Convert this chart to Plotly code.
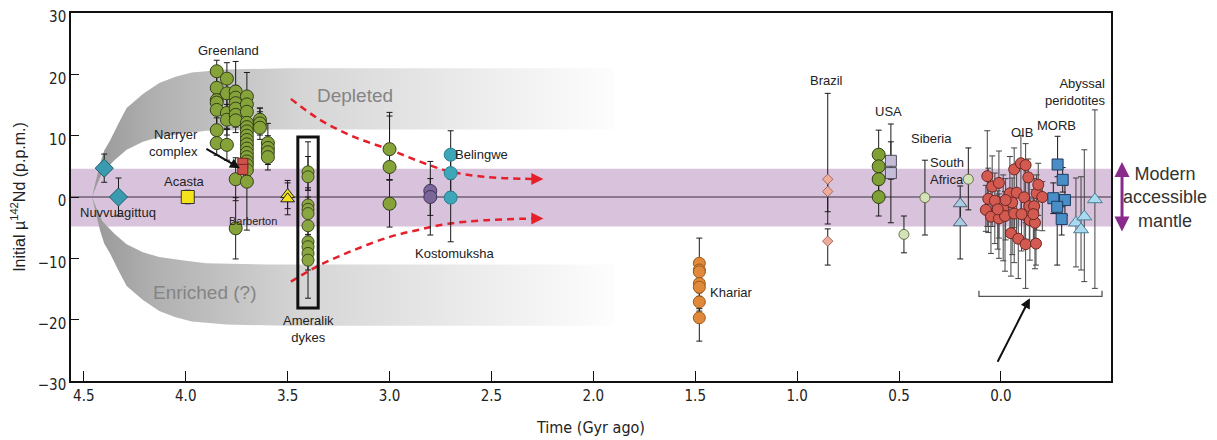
import plotly.graph_objects as go

# ---------------- data ----------------
nuv_x = [4.40, 4.33]
nuv_y = [4.7, 0.0]
nuv_err = [2.3, 3.1]

acasta_x = [3.99]
acasta_y = [0.0]
acasta_err = [1.1]

narryer_x = [3.72, 3.72]
narryer_y = [5.5, 4.5]
narryer_err = [0.6, 0.6]

barb_x = [3.50, 3.50]
barb_y = [0.4, -0.3]
barb_err = [2.3, 2.6]

green_x = [3.848, 3.848, 3.848, 3.848, 3.848, 3.848, 3.848,
           3.798, 3.798, 3.798, 3.798, 3.798,
           3.755, 3.755, 3.755, 3.755, 3.755, 3.755, 3.755, 3.755,
           3.70, 3.70, 3.70, 3.70, 3.70, 3.70, 3.70, 3.70, 3.70, 3.70, 3.70, 3.70, 3.70, 3.70, 3.70, 3.70,
           3.636, 3.636, 3.636,
           3.597, 3.597, 3.597, 3.597]
green_y = [20.5, 17.8, 15.8, 15.4, 14.2, 10.9, 8.8,
           19.3, 16.9, 13.7, 12.6, 8.5,
           17.2, 16.2, 15.3, 14.4, 13.4, 12.5, 2.9, -5.1,
           16.4, 15.1, 13.9, 12.1, 11.4, 10.7, 10.0, 9.3, 8.6, 7.9, 7.2, 6.5, 5.8, 5.2, 4.4, 2.5,
           12.6, 12.0, 11.3,
           8.8, 8.0, 7.3, 6.5]
green_ep = [1.8, 2.0, 2.2, 2.0, 2.5, 2.0, 2.0,
            2.6, 2.5, 2.5, 2.5, 2.5,
            4.9, 2.0, 2.0, 2.0, 2.0, 2.0, 3.5, 5.0,
            3.9, 2.0, 2.0, 2.0, 2.0, 2.0, 2.0, 2.0, 2.0, 2.0, 2.0, 2.0, 2.0, 2.0, 2.0, 2.0,
            1.9, 1.9, 3.2,
            3.2, 2.0, 2.0, 2.0]
green_em = [1.8, 2.0, 2.2, 2.0, 2.5, 2.0, 2.0,
            2.6, 2.5, 2.5, 2.5, 2.5,
            2.0, 2.0, 2.0, 2.0, 2.0, 2.0, 3.5, 5.0,
            2.0, 2.0, 2.0, 2.0, 2.0, 2.0, 2.0, 2.0, 2.0, 2.0, 2.0, 2.0, 2.0, 2.0, 2.0, 7.9,
            1.9, 1.9, 1.9,
            2.0, 2.0, 2.0, 2.1]

amer_x = [3.40] * 10
amer_y = [4.1, 3.3, -1.3, -2.0, -2.7, -4.7, -7.3, -8.1, -9.2, -10.3]
amer_ep = [4.9, 3.3, 2.8, 2.0, 2.0, 2.0, 2.0, 2.0, 2.0, 2.0]
amer_em = [3.0, 2.2, 2.0, 2.0, 2.0, 1.7, 2.0, 2.0, 2.7, 6.2]

isua3_x = [3.0, 3.0, 3.0]
isua3_y = [7.8, 4.9, -1.1]
isua3_ep = [6.0, 8.3, 3.9]
isua3_em = [5.0, 2.1, 3.8]

kosto_x = [2.80, 2.80]
kosto_y = [1.0, 0.0]
kosto_ep = [4.8, 3.0]
kosto_em = [4.0, 6.2]

beling_x = [2.70, 2.70, 2.70]
beling_y = [6.9, 3.9, -0.1]
beling_ep = [3.9, 3.0, 3.0]
beling_em = [3.0, 3.0, 7.2]

khariar_x = [1.48] * 7
khariar_y = [-10.8, -11.9, -12.2, -14.1, -14.7, -17.1, -19.7]
khariar_ep = [4.1, 1.5, 1.5, 1.5, 1.5, 1.5, 1.5]
khariar_em = [1.5, 1.5, 1.5, 1.5, 1.5, 1.5, 3.8]

brazil_x = [0.85, 0.85, 0.85]
brazil_y = [2.9, 0.9, -7.2]
brazil_ep = [14.0, 2.0, 2.0]
brazil_em = [5.3, 5.3, 3.9]

usa_c_x = [0.60, 0.60, 0.60, 0.60]
usa_c_y = [6.9, 5.0, 2.9, 0.0]
usa_c_ep = [4.0, 2.0, 2.0, 2.0]
usa_c_em = [2.0, 2.0, 2.0, 3.1]

usa_s_x = [0.54, 0.54]
usa_s_y = [5.9, 3.9]
usa_s_ep = [6.0, 5.1]
usa_s_em = [3.0, 8.1]

pale_x = [0.476, 0.373, 0.16]
pale_y = [-6.1, -0.1, 2.9]
pale_ep = [3.0, 6.1, 5.1]
pale_em = [3.0, 6.1, 5.0]

safr_x = [0.20, 0.20]
safr_y = [-1.1, -4.2]
safr_ep = [2.9, 3.0]
safr_em = [3.0, 5.9]

oib_x = [0.067, 0.043, 0.010, 0.062, 0.030, 0.074, 0.049, 0.010, -0.011, -0.020,
         -0.044, -0.065, -0.077, -0.098, -0.121, -0.114, -0.134, -0.139, -0.163, -0.175,
         -0.183, -0.203, -0.142, -0.167, -0.049, -0.085, -0.121, -0.172, -0.065, -0.101,
         -0.055, -0.023, 0.016, -0.159]
oib_y = [3.4, 1.7, 2.3, -0.3, -0.6, -2.1, -3.2, -3.5, -1.9, -3.1,
         0.6, 4.5, 0.7, 5.5, 5.2, -0.05, 3.2, -1.5, -1.5, 0.6,
         2.0, 0.0, -3.8, -4.2, -5.9, -6.8, -7.7, -7.6, -2.7, -2.8,
         -0.9, -0.5, -2.0, -2.8]
oib_ep = [7.4, 5.0, 5.2, 5.0, 4.5, 4.0, 4.5, 4.0, 5.5, 4.0,
          6.0, 3.5, 4.0, 4.5, 3.5, 5.5, 3.0, 4.0, 4.5, 3.0,
          3.5, 2.5, 3.5, 3.0, 3.0, 3.5, 3.5, 3.0, 3.0, 3.5,
          4.0, 3.5, 3.0, 4.0]
oib_em = [8.2, 6.5, 9.0, 5.5, 7.0, 3.5, 6.0, 6.5, 8.5, 9.0,
          6.0, 9.5, 7.5, 8.5, 9.0, 7.0, 6.0, 6.5, 5.5, 6.0,
          5.0, 5.5, 6.5, 7.5, 7.0, 6.5, 7.2, 3.5, 8.0, 6.0,
          8.5, 6.5, 6.5, 5.0]

morb_x = [-0.278, -0.303, -0.257, -0.314, -0.276, -0.298]
morb_y = [5.3, 2.8, -0.2, -0.5, -1.6, -3.6]
morb_ep = [4.6, 2.0, 2.5, 2.5, 2.0, 2.0]
morb_em = [2.0, 2.0, 2.5, 2.5, 9.5, 2.6]

abys_x = [-0.368, -0.409, -0.393, -0.461]
abys_y = [-4.2, -3.2, -5.3, -0.4]
abys_ep = [7.3, 10.9, 8.6, 14.6]
abys_em = [7.2, 10.6, 6.6, 14.5]

# schematic evolution bands (edges)
band_up_x = [4.46, 4.44, 4.42, 4.40, 4.37, 4.33, 4.29, 4.21, 4.13, 4.05, 3.97, 3.80, 3.50, 1.90]
band_up_y = [0.0, 3.0, 5.5, 7.6, 9.3, 12.0, 14.5, 16.8, 18.6, 19.6, 20.3, 20.8, 21.0, 21.0]
band_lo_x = [4.46, 4.43, 4.41, 4.35, 4.29, 4.21, 4.13, 4.00, 3.90, 3.60, 1.90]
band_lo_y = [0.0, 2.5, 3.9, 6.0, 7.7, 9.0, 9.8, 10.4, 10.8, 11.0, 11.0]

dash_up_x = [3.484, 3.342, 3.178, 2.998, 2.851, 2.720, 2.540, 2.278]
dash_up_y = [16.0, 12.6, 9.85, 7.7, 5.77, 4.3, 3.3, 2.94]
dash_lo_x = [3.484, 3.342, 3.178, 2.998, 2.851, 2.720, 2.540, 2.278]
dash_lo_y = [-13.8, -11.1, -8.7, -6.5, -5.3, -4.4, -3.8, -3.5]

mantle_lo, mantle_hi = -4.8, 4.6
x_range = [4.563, -0.54]

# ---------------- figure ----------------
fig = go.Figure()

grad = dict(type="horizontal", start=4.46, stop=1.90,
            colorscale=[[0, "#989898"], [0.12, "#b0b0b0"], [0.4, "#d5d5d5"], [0.75, "#ededed"], [1, "#fdfdfd"]])

px_ = band_up_x + band_lo_x[::-1]
py_ = band_up_y + band_lo_y[::-1]
fig.add_trace(go.Scatter(x=px_, y=py_, mode="lines", fill="toself", line=dict(width=0),
                         fillgradient=grad, hoverinfo="skip", showlegend=False))
fig.add_trace(go.Scatter(x=px_, y=[-v for v in py_], mode="lines", fill="toself", line=dict(width=0),
                         fillgradient=grad, hoverinfo="skip", showlegend=False))

# zero line
fig.add_trace(go.Scatter(x=[x_range[0], x_range[1]], y=[0, 0], mode="lines",
                         line=dict(color="#6f6175", width=1.3), hoverinfo="skip", showlegend=False))

# dashed red curves
for xs, ys in [(dash_up_x, dash_up_y), (dash_lo_x, dash_lo_y)]:
    fig.add_trace(go.Scatter(x=xs, y=ys, mode="lines", line=dict(color="#e5202a", width=2.5, dash="7px,5px", shape="spline"),
                             hoverinfo="skip", showlegend=False))


def pts(x, y, ep, em, symbol, size, color, edge, ecol="#1a1a1a", ew=1.0, lw=1.0):
    fig.add_trace(go.Scatter(
        x=x, y=y, mode="markers",
        marker=dict(symbol=symbol, size=size, color=color, line=dict(color=edge, width=lw)),
        error_y=dict(type="data", symmetric=False, array=ep, arrayminus=em,
                     color=ecol, thickness=ew, width=3),
        showlegend=False, hoverinfo="x+y"))


pts(oib_x, oib_y, oib_ep, oib_em, "circle", 11, "#d25a50", "#6e2520", ecol="#444444")
pts(abys_x, abys_y, abys_ep, abys_em, "triangle-up", 13, "#a9daf0", "#4d7e94", ecol="#444444")
pts(morb_x, morb_y, morb_ep, morb_em, "square", 11, "#4a8ec8", "#1d3c5e")
pts(safr_x, safr_y, safr_ep, safr_em, "triangle-up", 12, "#a9cce0", "#4f6272")
pts(pale_x, pale_y, pale_ep, pale_em, "circle", 10, "#d3e3b5", "#66704e")
pts(usa_s_x, usa_s_y, usa_s_ep, usa_s_em, "square", 11, "#c5bdd8", "#4e4a5a")
pts(usa_c_x, usa_c_y, usa_c_ep, usa_c_em, "circle", 13, "#7fa034", "#2f3f15")
pts(brazil_x, brazil_y, brazil_ep, brazil_em, "diamond", 8, "#efac9a", "#a06a5c")
pts(khariar_x, khariar_y, khariar_ep, khariar_em, "circle", 12, "#e1893a", "#9a5c1c")
pts(beling_x, beling_y, beling_ep, beling_em, "circle", 13, "#3ea6b9", "#2a7f90")
pts(kosto_x, kosto_y, kosto_ep, kosto_em, "circle", 13, "#7b6699", "#3e3458")
pts(isua3_x, isua3_y, isua3_ep, isua3_em, "circle", 13, "#86a33a", "#33401a")
pts(amer_x, amer_y, amer_ep, amer_em, "circle", 12, "#8aa640", "#3c4a1c")
pts(green_x, green_y, green_ep, green_em, "circle", 13, "#86a33a", "#33401a")
pts(barb_x, barb_y, barb_err, barb_err, "triangle-up", 12, "#f3e11c", "#222222")
pts(narryer_x, narryer_y, narryer_err, narryer_err, "square", 10, "#d0514b", "#7a2520")
pts(acasta_x, acasta_y, acasta_err, acasta_err, "square", 13, "#f4e21a", "#333333")
pts(nuv_x, nuv_y, nuv_err, nuv_err, "diamond", 14, "#3a9ab0", "#1f5a68")

shapes = [
    dict(type="rect", xref="x", yref="y", x0=x_range[0], x1=x_range[1], y0=mantle_lo, y1=mantle_hi,
         fillcolor="#d9c2dc", line=dict(width=0), layer="below"),
    dict(type="rect", xref="x", yref="y", x0=3.45, x1=3.35, y0=-18.1, y1=9.8,
         line=dict(color="#111111", width=3), fillcolor="rgba(0,0,0,0)"),
    dict(type="path", xref="x", yref="y",
         path="M 0.108,-15.3 L 0.108,-16.2 L -0.496,-16.2 L -0.496,-15.3",
         line=dict(color="#555555", width=1.3)),
]

lab_font = dict(family="Liberation Sans, Arial, sans-serif", size=13, color="#222222")
ann = []


def lab(x, y, t, **kw):
    d = dict(x=x, y=y, xref="x", yref="y", text=t, showarrow=False, font=kw.pop("font", lab_font))
    d.update(kw)
    ann.append(d)


lab(3.788, 23.9, "Greenland")
lab(3.93, 8.8, "Narryer<br>complex", xanchor="right", align="right")
lab(4.004, 2.45, "Acasta")
lab(4.333, -2.45, "Nuvvuagittuq")
lab(3.67, -3.9, "Barberton", font=dict(family="Liberation Sans, Arial", size=11, color="#222"))
lab(3.40, -21.6, "Ameralik<br>dykes")
lab(3.17, 16.5, "Depleted", font=dict(family="Liberation Sans, Arial", size=19, color="#848484"))
lab(3.906, -15.5, "Enriched (?)", font=dict(family="Liberation Sans, Arial", size=19, color="#848484"))
lab(2.547, 6.86, "Belingwe")
lab(2.68, -9.15, "Kostomuksha")
lab(1.32, -15.5, "Khariar")
lab(0.854, 19.0, "Brazil")
lab(0.55, 13.9, "USA")
lab(0.339, 9.6, "Siberia")
lab(0.265, 4.2, "South<br>Africa", align="left")
lab(-0.103, 10.5, "OIB")
lab(-0.275, 11.6, "MORB")
lab(-0.52, 17.2, "Abyssal<br>peridotites", xanchor="right", align="right")

# arrows
ann.append(dict(x=3.734, y=4.7, ax=3.906, ay=8.0, xref="x", yref="y", axref="x", ayref="y",
                showarrow=True, arrowhead=2, arrowsize=1, arrowwidth=2, arrowcolor="#111", text=""))
ann.append(dict(x=-0.142, y=-16.5, ax=0.02, ay=-27.1, xref="x", yref="y", axref="x", ayref="y",
                showarrow=True, arrowhead=2, arrowsize=1, arrowwidth=2, arrowcolor="#111", text=""))
for yy in [dash_up_y[-1], dash_lo_y[-1]]:
    ann.append(dict(x=2.245, y=yy, ax=2.30, ay=yy, xref="x", yref="y", axref="x", ayref="y",
                    showarrow=True, arrowhead=2, arrowsize=1.1, arrowwidth=2.2, arrowcolor="#e5202a", text=""))
# modern accessible mantle double arrow
ann.append(dict(x=1.0106, y=5.7, ax=0, ay=71, xref="paper", yref="y",
                showarrow=True, arrowhead=2, arrowside="end+start",
                arrowsize=1, arrowwidth=3, arrowcolor="#8a2a8c", text=""))
ann.append(dict(x=1.052, y=0, xref="paper", yref="y", xanchor="center", yanchor="middle",
                text="Modern<br>accessible<br>mantle", showarrow=False,
                font=dict(family="Liberation Sans, Arial", size=18, color="#333333")))

tick_font = dict(family="Liberation Sans Narrow, DejaVu Sans Condensed, Arial Narrow, sans-serif", size=15, color="#222")

fig.update_layout(
    width=1217, height=440,
    margin=dict(l=63, r=114, t=5, b=67, autoexpand=False),
    plot_bgcolor="white", paper_bgcolor="white",
    shapes=shapes, annotations=ann, showlegend=False,
    xaxis=dict(range=x_range, tickvals=[4.5, 4.0, 3.5, 3.0, 2.5, 2.0, 1.5, 1.0, 0.5, 0.0],
               ticktext=["4.5", "4.0", "3.5", "3.0", "2.5", "2.0", "1.5", "1.0", "0.5", "0.0"],
               ticks="inside", ticklen=10, tickcolor="#111", showline=True, linecolor="#111", linewidth=1.5,
               mirror=True, showgrid=False, zeroline=False, tickfont=tick_font, automargin=False,
               ticklabeloverflow="allow",
               title=dict(text="Time (Gyr ago)", font=dict(tick_font, size=16), standoff=18)),
    yaxis=dict(range=[-30, 30], tickvals=[-30, -20, -10, 0, 10, 20, 30],
               ticktext=["\u221230", "\u221220", "\u221210", "0", "10", "20", "30"],
               ticks="inside", ticklen=8, tickcolor="#111", showline=True, linecolor="#111", linewidth=1.5,
               mirror=True, showgrid=False, zeroline=False, tickfont=tick_font, automargin=False,
               ticklabeloverflow="allow", ticklabelshift=4,
               title=dict(text="Initial \u00b5<sup>142</sup>Nd (p.p.m.)", font=dict(family="Liberation Sans, Arial", size=16, color="#222"), standoff=8)),
)

fig.write_html("out.html")
